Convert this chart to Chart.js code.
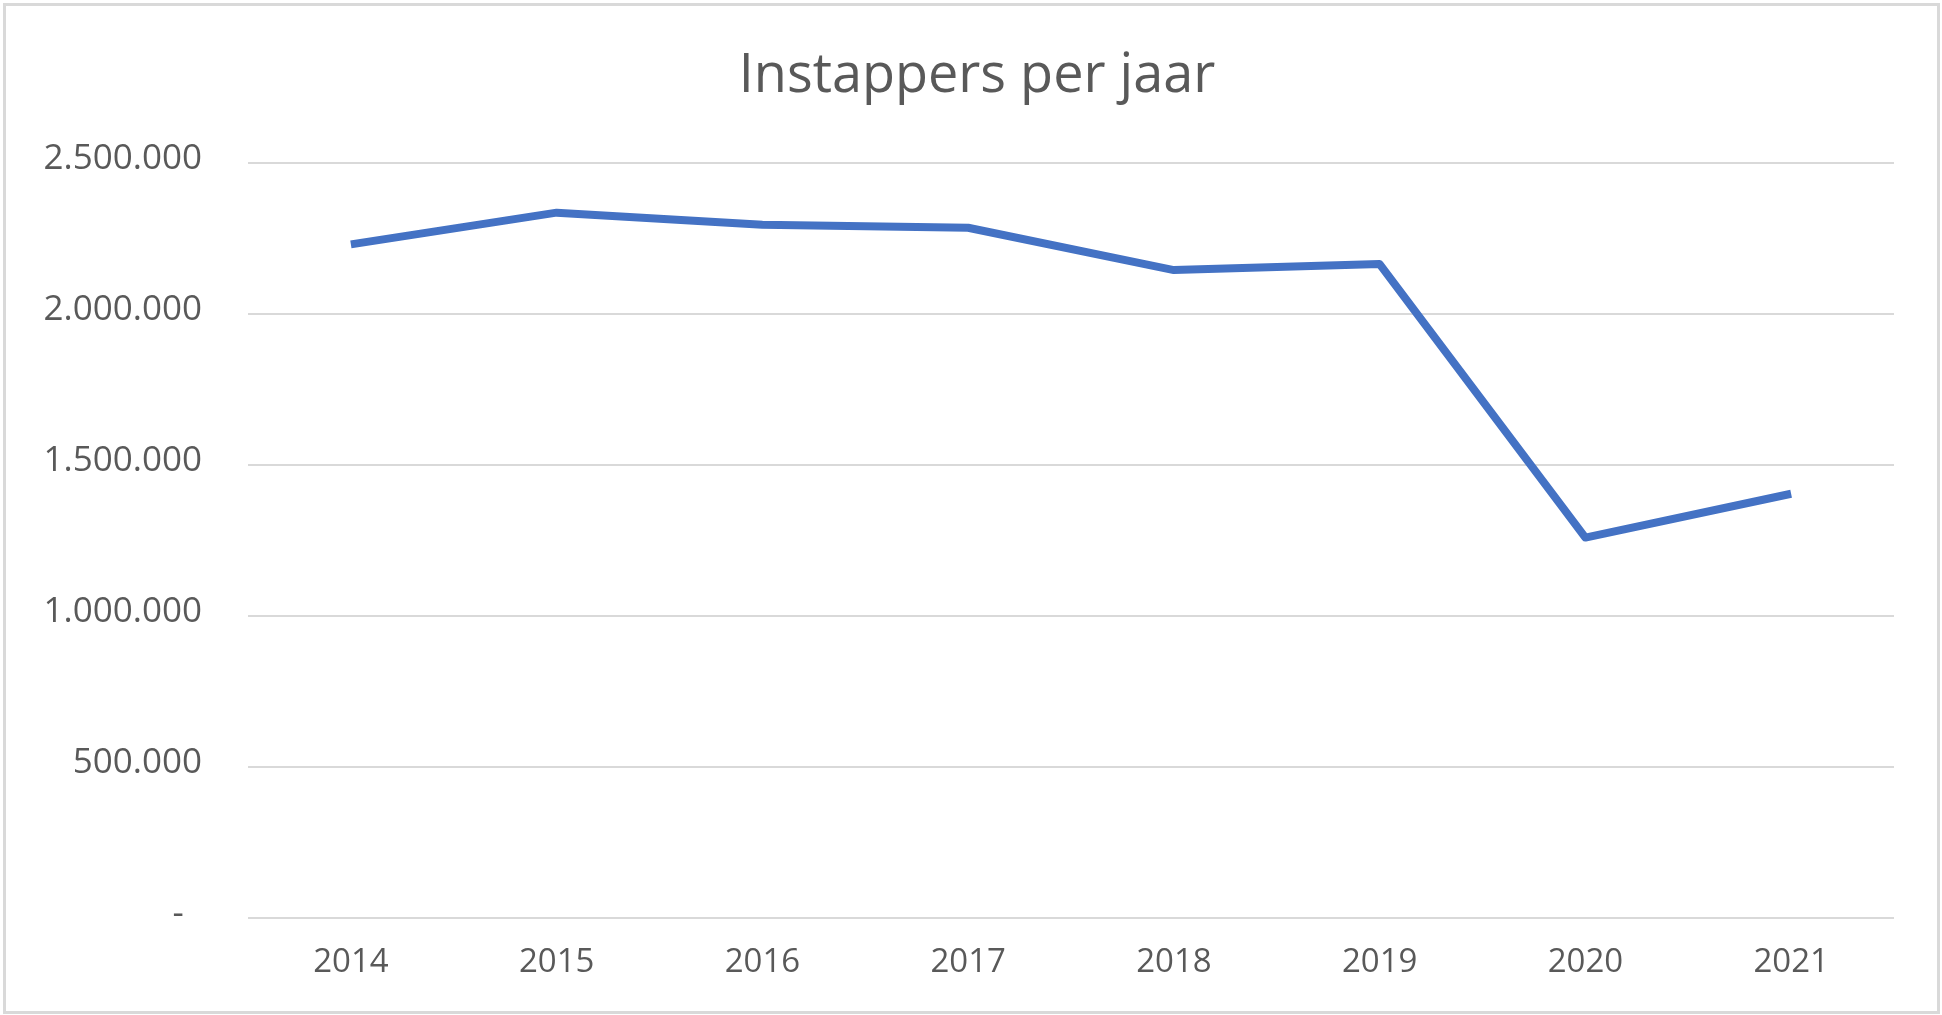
<!DOCTYPE html>
<html lang="nl">
<head>
<meta charset="utf-8">
<title>Instappers per jaar</title>
<script src="https://cdn.jsdelivr.net/npm/chart.js@4.4.1/dist/chart.umd.min.js"></script>
<style>
    html, body {
        margin: 0;
        padding: 0;
        background: #ffffff;
        width: 1942px;
        height: 1015px;
        overflow: hidden;
    }
    #frame {
        position: absolute;
        left: 3px;
        top: 3px;
        width: 1937px;
        height: 1011px;
        border: 3px solid #d9d9d9;
        box-sizing: border-box;
    }
</style>
</head>
<body>
<div id="frame">
    <canvas id="instappersChart"></canvas>
</div>
<script>
// Chart data
const years = ['2014', '2015', '2016', '2017', '2018', '2019', '2020', '2021'];
const instappers = [2230000, 2335000, 2295000, 2285000, 2145000, 2165000, 1260000, 1405000];
const yTicks = [0, 500000, 1000000, 1500000, 2000000, 2500000];

const textColor = '#595959';
const gridColor = '#d9d9d9';
const lineColor = '#4472C4';

/**
 * Dutch thousands separator, zero shown as dash (accounting style)
 */
function formatNumber(value) {
    if (value === 0) return '-  ';
    return String(value).replace(/\B(?=(\d{3})+(?!\d))/g, '.');
}

// title in the original sits a little right of the y-axis/plot centre
const titleShift = {
    id: 'titleShift',
    afterLayout(chart) {
        const t = chart.titleBlock;
        if (t) {
            t.left += 27;
            t.right += 27;
        }
    }
};

const ctx = document.getElementById('instappersChart');

new Chart(ctx, {
    type: 'line',
    data: {
        labels: years,
        datasets: [{
            label: 'Instappers',
            data: instappers,
            borderColor: lineColor,
            backgroundColor: lineColor,
            borderWidth: 8,
            borderJoinStyle: 'round',
            borderCapStyle: 'butt',
            tension: 0,
            pointRadius: 0,
            pointHoverRadius: 0,
            fill: false
        }]
    },
    options: {
        responsive: true,
        maintainAspectRatio: false,
        animation: false,
        layout: {
            padding: { left: 0, right: 43, top: 0, bottom: 5 }
        },
        plugins: {
            legend: { display: false },
            tooltip: { enabled: false },
            title: {
                display: true,
                text: 'Instappers per jaar',
                color: textColor,
                font: { family: "'Open Sans', sans-serif", size: 54, weight: 'normal', lineHeight: 1.2 },
                padding: { top: 38, bottom: 54 }
            }
        },
        scales: {
            x: {
                offset: true,
                grid: { display: false, drawTicks: false },
                border: { display: false },
                ticks: {
                    color: textColor,
                    padding: 24,
                    maxRotation: 0,
                    font: { family: "'Open Sans', sans-serif", size: 33, lineHeight: 1.2 }
                }
            },
            y: {
                min: 0,
                max: 2500000,
                afterFit(scale) {
                    scale.width = 242;
                },
                afterBuildTicks(scale) {
                    scale.ticks = yTicks.map(v => ({ value: v }));
                },
                grid: {
                    color: gridColor,
                    lineWidth: 2,
                    drawTicks: false
                },
                border: { display: false },
                ticks: {
                    color: textColor,
                    padding: 46,
                    labelOffset: -4,
                    font: { family: "'Open Sans', sans-serif", size: 35, lineHeight: 1.2 },
                    callback: function (value) {
                        return formatNumber(value);
                    }
                }
            }
        }
    },
    plugins: [titleShift]
});
</script>
</body>
</html>
